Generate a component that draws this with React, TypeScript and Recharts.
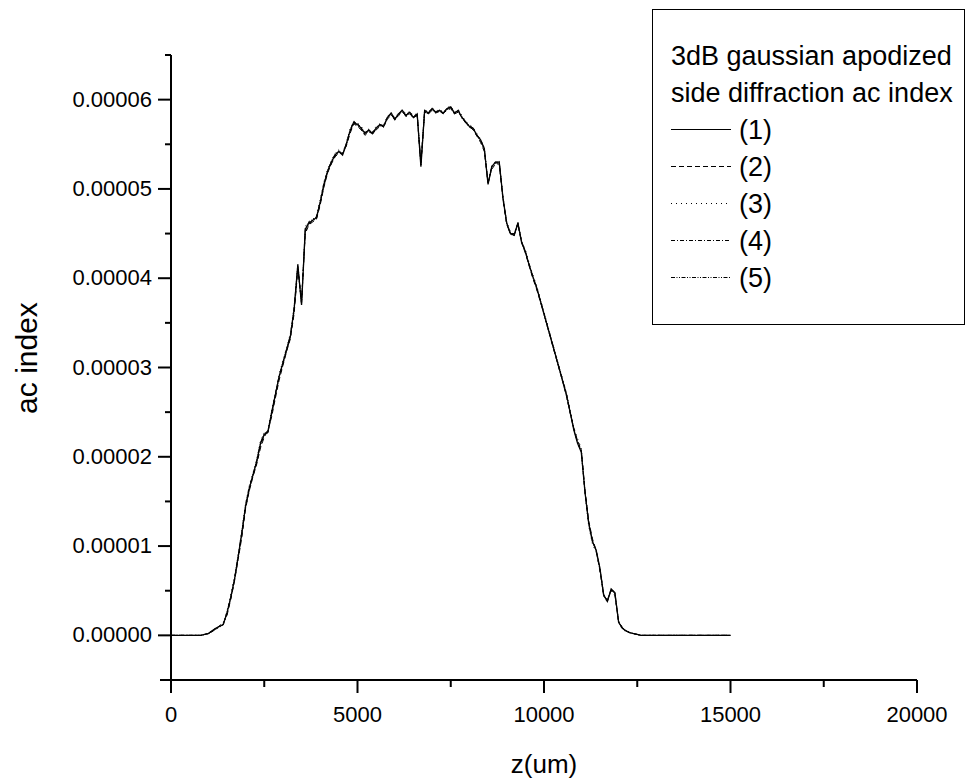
import { Legend, Line, LineChart, XAxis, YAxis } from "recharts";

// values are read in units of 1e-5 (ac index)
const UNIT = 1e-5;

const Z = [
  0, 800, 900, 1000, 1100, 1200, 1300, 1400, 1500, 1600, 1700, 1800, 1900, 2000, 2100, 2200, 2300, 2400, 2500,
  2600, 2700, 2800, 2900, 3000, 3100, 3200, 3300, 3400, 3500, 3600, 3700, 3800, 3900, 4000, 4100, 4200, 4300,
  4400, 4500, 4600, 4700, 4800, 4900, 5000, 5100, 5200, 5300, 5400, 5500, 5600, 5700, 5800, 5900, 6000, 6100,
  6200, 6300, 6400, 6500, 6600, 6700, 6800, 6900, 7000, 7100, 7200, 7300, 7400, 7500, 7600, 7700, 7800, 7900,
  8000, 8100, 8200, 8300, 8400, 8500, 8600, 8700, 8800, 8900, 9000, 9100, 9200, 9300, 9400, 9500, 9600, 9700,
  9800, 9900, 10000, 10100, 10200, 10300, 10400, 10500, 10600, 10700, 10800, 10900, 11000, 11100, 11200, 11300,
  11400, 11500, 11600, 11700, 11800, 11900, 12000, 12100, 12200, 12300, 12400, 12500, 12600, 12700, 12800,
  13000, 15000,
];

const S1 = [
  0, 0,
  0.01, 0.02, 0.05, 0.08, 0.1, 0.12, 0.25, 0.42, 0.62, 0.88,
  1.15, 1.45, 1.65, 1.8, 1.95, 2.15, 2.25, 2.28, 2.5, 2.7,
  2.9, 3.05, 3.2, 3.35, 3.65, 4.15, 3.7, 4.55, 4.62, 4.65,
  4.68, 4.85, 5.05, 5.2, 5.3, 5.38, 5.42, 5.38, 5.5, 5.65,
  5.75, 5.72, 5.68, 5.62, 5.66, 5.62, 5.68, 5.72, 5.7, 5.8,
  5.85, 5.78, 5.84, 5.88, 5.82, 5.86, 5.8, 5.84, 5.25, 5.88,
  5.85, 5.9, 5.86, 5.88, 5.85, 5.9, 5.92, 5.85, 5.88, 5.8,
  5.75, 5.7, 5.68, 5.6, 5.55, 5.45, 5.05, 5.25, 5.3, 5.3,
  4.9, 4.62, 4.5, 4.48, 4.62, 4.4, 4.3, 4.15, 4.02, 3.9,
  3.75, 3.6, 3.45, 3.3, 3.15, 3.0, 2.85, 2.7, 2.5, 2.3,
  2.15, 2.05, 1.6, 1.25, 1.05, 0.95, 0.75, 0.45, 0.38, 0.52,
  0.48, 0.15, 0.08, 0.05, 0.03, 0.02, 0.01, 0, 0, 0,
  0, 0,
];

const S2 = [
  0, 0,
  0.01, 0.02, 0.04, 0.07, 0.11, 0.14, 0.22, 0.4, 0.6, 0.85,
  1.1, 1.42, 1.62, 1.78, 1.92, 2.1, 2.22, 2.3, 2.45, 2.66,
  2.86, 3.02, 3.18, 3.32, 3.6, 4.1, 3.75, 4.5, 4.6, 4.63,
  4.66, 4.82, 5.02, 5.18, 5.28, 5.36, 5.4, 5.4, 5.48, 5.62,
  5.73, 5.7, 5.66, 5.6, 5.64, 5.62, 5.66, 5.7, 5.7, 5.78,
  5.83, 5.78, 5.82, 5.86, 5.82, 5.84, 5.8, 5.82, 5.3, 5.86,
  5.84, 5.88, 5.85, 5.87, 5.85, 5.88, 5.9, 5.84, 5.86, 5.8,
  5.74, 5.7, 5.66, 5.6, 5.52, 5.42, 5.08, 5.22, 5.28, 5.28,
  4.88, 4.6, 4.5, 4.5, 4.6, 4.4, 4.28, 4.14, 4.0, 3.88,
  3.74, 3.6, 3.44, 3.3, 3.14, 3.0, 2.84, 2.68, 2.5, 2.32,
  2.18, 2.08, 1.62, 1.28, 1.08, 0.95, 0.72, 0.46, 0.4, 0.5,
  0.45, 0.16, 0.09, 0.05, 0.03, 0.02, 0.01, 0, 0, 0,
  0, 0,
];

const S3 = [
  0, 0,
  0.01, 0.03, 0.05, 0.08, 0.1, 0.13, 0.27, 0.45, 0.65, 0.9,
  1.18, 1.48, 1.68, 1.82, 1.98, 2.18, 2.27, 2.3, 2.52, 2.72,
  2.92, 3.08, 3.22, 3.38, 3.68, 4.12, 3.72, 4.58, 4.64, 4.66,
  4.7, 4.88, 5.08, 5.22, 5.32, 5.4, 5.44, 5.4, 5.52, 5.67,
  5.76, 5.74, 5.7, 5.64, 5.67, 5.64, 5.7, 5.73, 5.72, 5.81,
  5.86, 5.8, 5.85, 5.89, 5.84, 5.87, 5.82, 5.85, 5.28, 5.89,
  5.86, 5.91, 5.87, 5.89, 5.86, 5.91, 5.93, 5.86, 5.89, 5.82,
  5.76, 5.72, 5.69, 5.62, 5.56, 5.46, 5.06, 5.26, 5.31, 5.31,
  4.92, 4.63, 4.52, 4.49, 4.63, 4.42, 4.32, 4.17, 4.04, 3.92,
  3.77, 3.62, 3.47, 3.32, 3.17, 3.02, 2.87, 2.72, 2.52, 2.33,
  2.2, 2.1, 1.58, 1.22, 1.02, 0.93, 0.74, 0.44, 0.37, 0.51,
  0.47, 0.14, 0.07, 0.04, 0.03, 0.02, 0.01, 0, 0, 0,
  0, 0,
];

const S4 = [
  0, 0,
  0.01, 0.02, 0.04, 0.07, 0.09, 0.12, 0.24, 0.41, 0.61, 0.87,
  1.13, 1.43, 1.64, 1.79, 1.94, 2.13, 2.24, 2.27, 2.48, 2.69,
  2.89, 3.04, 3.19, 3.34, 3.63, 4.13, 3.72, 4.52, 4.61, 4.64,
  4.67, 4.84, 5.04, 5.19, 5.29, 5.37, 5.41, 5.39, 5.49, 5.64,
  5.74, 5.71, 5.67, 5.61, 5.65, 5.61, 5.67, 5.71, 5.69, 5.79,
  5.84, 5.77, 5.83, 5.87, 5.81, 5.85, 5.79, 5.83, 5.27, 5.87,
  5.84, 5.89, 5.85, 5.87, 5.84, 5.89, 5.91, 5.84, 5.87, 5.79,
  5.74, 5.69, 5.67, 5.59, 5.54, 5.44, 5.07, 5.24, 5.29, 5.29,
  4.89, 4.61, 4.49, 4.48, 4.61, 4.41, 4.29, 4.15, 4.01, 3.89,
  3.75, 3.59, 3.45, 3.29, 3.15, 2.99, 2.85, 2.69, 2.49, 2.31,
  2.16, 2.06, 1.61, 1.26, 1.06, 0.94, 0.74, 0.45, 0.39, 0.51,
  0.47, 0.15, 0.08, 0.05, 0.03, 0.02, 0.01, 0, 0, 0,
  0, 0,
];

const S5 = [
  0, 0,
  0.01, 0.02, 0.05, 0.08, 0.1, 0.12, 0.26, 0.43, 0.63, 0.89,
  1.16, 1.46, 1.66, 1.81, 1.96, 2.16, 2.26, 2.29, 2.51, 2.71,
  2.91, 3.06, 3.21, 3.36, 3.66, 4.16, 3.71, 4.56, 4.63, 4.66,
  4.69, 4.86, 5.06, 5.21, 5.31, 5.39, 5.43, 5.39, 5.51, 5.66,
  5.75, 5.73, 5.69, 5.63, 5.66, 5.63, 5.69, 5.72, 5.71, 5.8,
  5.85, 5.79, 5.84, 5.88, 5.83, 5.86, 5.81, 5.84, 5.26, 5.88,
  5.85, 5.9, 5.86, 5.88, 5.85, 5.9, 5.92, 5.85, 5.88, 5.81,
  5.75, 5.71, 5.68, 5.61, 5.55, 5.45, 5.06, 5.25, 5.3, 5.3,
  4.9, 4.62, 4.5, 4.48, 4.62, 4.41, 4.3, 4.16, 4.02, 3.9,
  3.76, 3.61, 3.46, 3.31, 3.16, 3.01, 2.86, 2.71, 2.51, 2.31,
  2.16, 2.06, 1.6, 1.25, 1.05, 0.95, 0.75, 0.45, 0.38, 0.52,
  0.48, 0.15, 0.08, 0.05, 0.03, 0.02, 0.01, 0, 0, 0,
  0, 0,
];

const X_TICKS = [0, 2500, 5000, 7500, 10000, 12500, 15000, 17500, 20000];
const Y_TICKS = [
  -0.000005, 0, 0.000005, 0.00001, 0.000015, 0.00002, 0.000025, 0.00003, 0.000035, 0.00004, 0.000045, 0.00005,
  0.000055, 0.00006, 0.000065,
];

const LEGEND_TITLE = ["3dB gaussian apodized", "side diffraction ac index"];

const SERIES = [
  { key: "s1", name: "(1)", values: S1, dash: undefined as string | undefined },
  { key: "s2", name: "(2)", values: S2, dash: "5 3" },
  { key: "s3", name: "(3)", values: S3, dash: "1 4" },
  { key: "s4", name: "(4)", values: S4, dash: "4 2 1 2" },
  { key: "s5", name: "(5)", values: S5, dash: "4 1.5 1 1.5 1 1.5" },
];

const data = Z.map((z, i) => {
  const row: Record<string, number> = { z };
  SERIES.forEach((s) => {
    row[s.key] = s.values[i] * UNIT;
  });
  return row;
});

const FONT = '"Liberation Sans", Arial, Helvetica, sans-serif';

const isMajorY = (v: number) => {
  const u = v / UNIT;
  return Math.abs(u - Math.round(u)) < 1e-6;
};

const XTick = (props: any) => {
  const { x, y, payload } = props;
  const v = payload.value as number;
  const major = v % 5000 === 0;
  return (
    <g>
      <line x1={x} x2={x} y1={y} y2={y + (major ? 13 : 7)} stroke="#000" strokeWidth={2} />
      {major && (
        <text x={x} y={y + 42} textAnchor="middle" fontSize={22} fontFamily={FONT} fill="#000">
          {v}
        </text>
      )}
    </g>
  );
};

const YTick = (props: any) => {
  const { x, y, payload } = props;
  const v = payload.value as number;
  const major = isMajorY(v);
  // bottom end of the axis carries a longer stub, as in the original
  const len = major ? 13 : v < 0 ? 11 : 6;
  return (
    <g>
      <line x1={x - len} x2={x} y1={y} y2={y} stroke="#000" strokeWidth={2} />
      {major && (
        <text x={x - 19} y={y + 7} textAnchor="end" fontSize={22} fontFamily={FONT} fill="#000">
          {Math.abs(v).toFixed(5)}
        </text>
      )}
    </g>
  );
};

const LegendBox = () => (
  <div
    style={{
      boxSizing: "border-box",
      width: 313,
      height: 316,
      border: "1px solid #000",
      background: "#fff",
      paddingTop: 28,
      paddingLeft: 18,
      fontFamily: FONT,
      fontSize: 27,
      lineHeight: "37px",
      color: "#000",
      whiteSpace: "nowrap",
    }}
  >
    {LEGEND_TITLE.map((t) => (
      <div key={t}>{t}</div>
    ))}
    {SERIES.map((s) => (
      <div key={s.key} style={{ display: "flex", alignItems: "flex-start", height: 37 }}>
        <svg width={60} height={37} style={{ display: "block" }}>
          <line x1={0} x2={60} y1={17.5} y2={17.5} stroke="#000" strokeWidth={1} strokeDasharray={s.dash} />
        </svg>
        <span style={{ marginLeft: 8 }}>{s.name}</span>
      </div>
    ))}
  </div>
);

export default function App() {
  return (
    <div style={{ position: "absolute", left: 0, top: 0, width: 965, height: 778, background: "#fff" }}>
      <LineChart
        width={965}
        height={778}
        data={data}
        margin={{ top: 55, right: 48, bottom: 0, left: 0 }}
        style={{ fontFamily: FONT }}
      >
        <XAxis
          type="number"
          dataKey="z"
          domain={[0, 20000]}
          ticks={X_TICKS}
          interval={0}
          allowDataOverflow
          height={98}
          tickSize={0}
          tickMargin={0}
          tickLine={false}
          axisLine={{ stroke: "#000", strokeWidth: 2 }}
          tick={(p: any) => <XTick {...p} />}
          label={{
            content: () => (
              <text x={544} y={773} textAnchor="middle" fontSize={26} fontFamily={FONT} fill="#000">
                z(um)
              </text>
            ),
          }}
        />
        <YAxis
          type="number"
          domain={[-0.000005, 0.000065]}
          ticks={Y_TICKS}
          interval={0}
          allowDataOverflow
          width={171}
          tickSize={0}
          tickMargin={0}
          tickLine={false}
          axisLine={{ stroke: "#000", strokeWidth: 2 }}
          tick={(p: any) => <YTick {...p} />}
          label={{
            content: () => (
              <text
                x={37}
                y={358}
                transform="rotate(-90 37 358)"
                textAnchor="middle"
                fontSize={30}
                fontFamily={FONT}
                fill="#000"
              >
                ac index
              </text>
            ),
          }}
        />
        <Legend
          layout="horizontal"
          verticalAlign="middle"
          align="center"
          content={() => <LegendBox />}
          wrapperStyle={{ left: 652, top: 9, width: 313, height: 316, margin: 0 }}
        />
        {SERIES.slice()
          .reverse()
          .map((s) => (
            <Line
              key={s.key}
              type="linear"
              dataKey={s.key}
              name={s.name}
              stroke="#000"
              strokeWidth={s.key === "s1" ? 1.3 : 1}
              strokeDasharray={s.dash}
              dot={false}
              activeDot={false}
              isAnimationActive={false}
            />
          ))}
      </LineChart>
    </div>
  );
}
